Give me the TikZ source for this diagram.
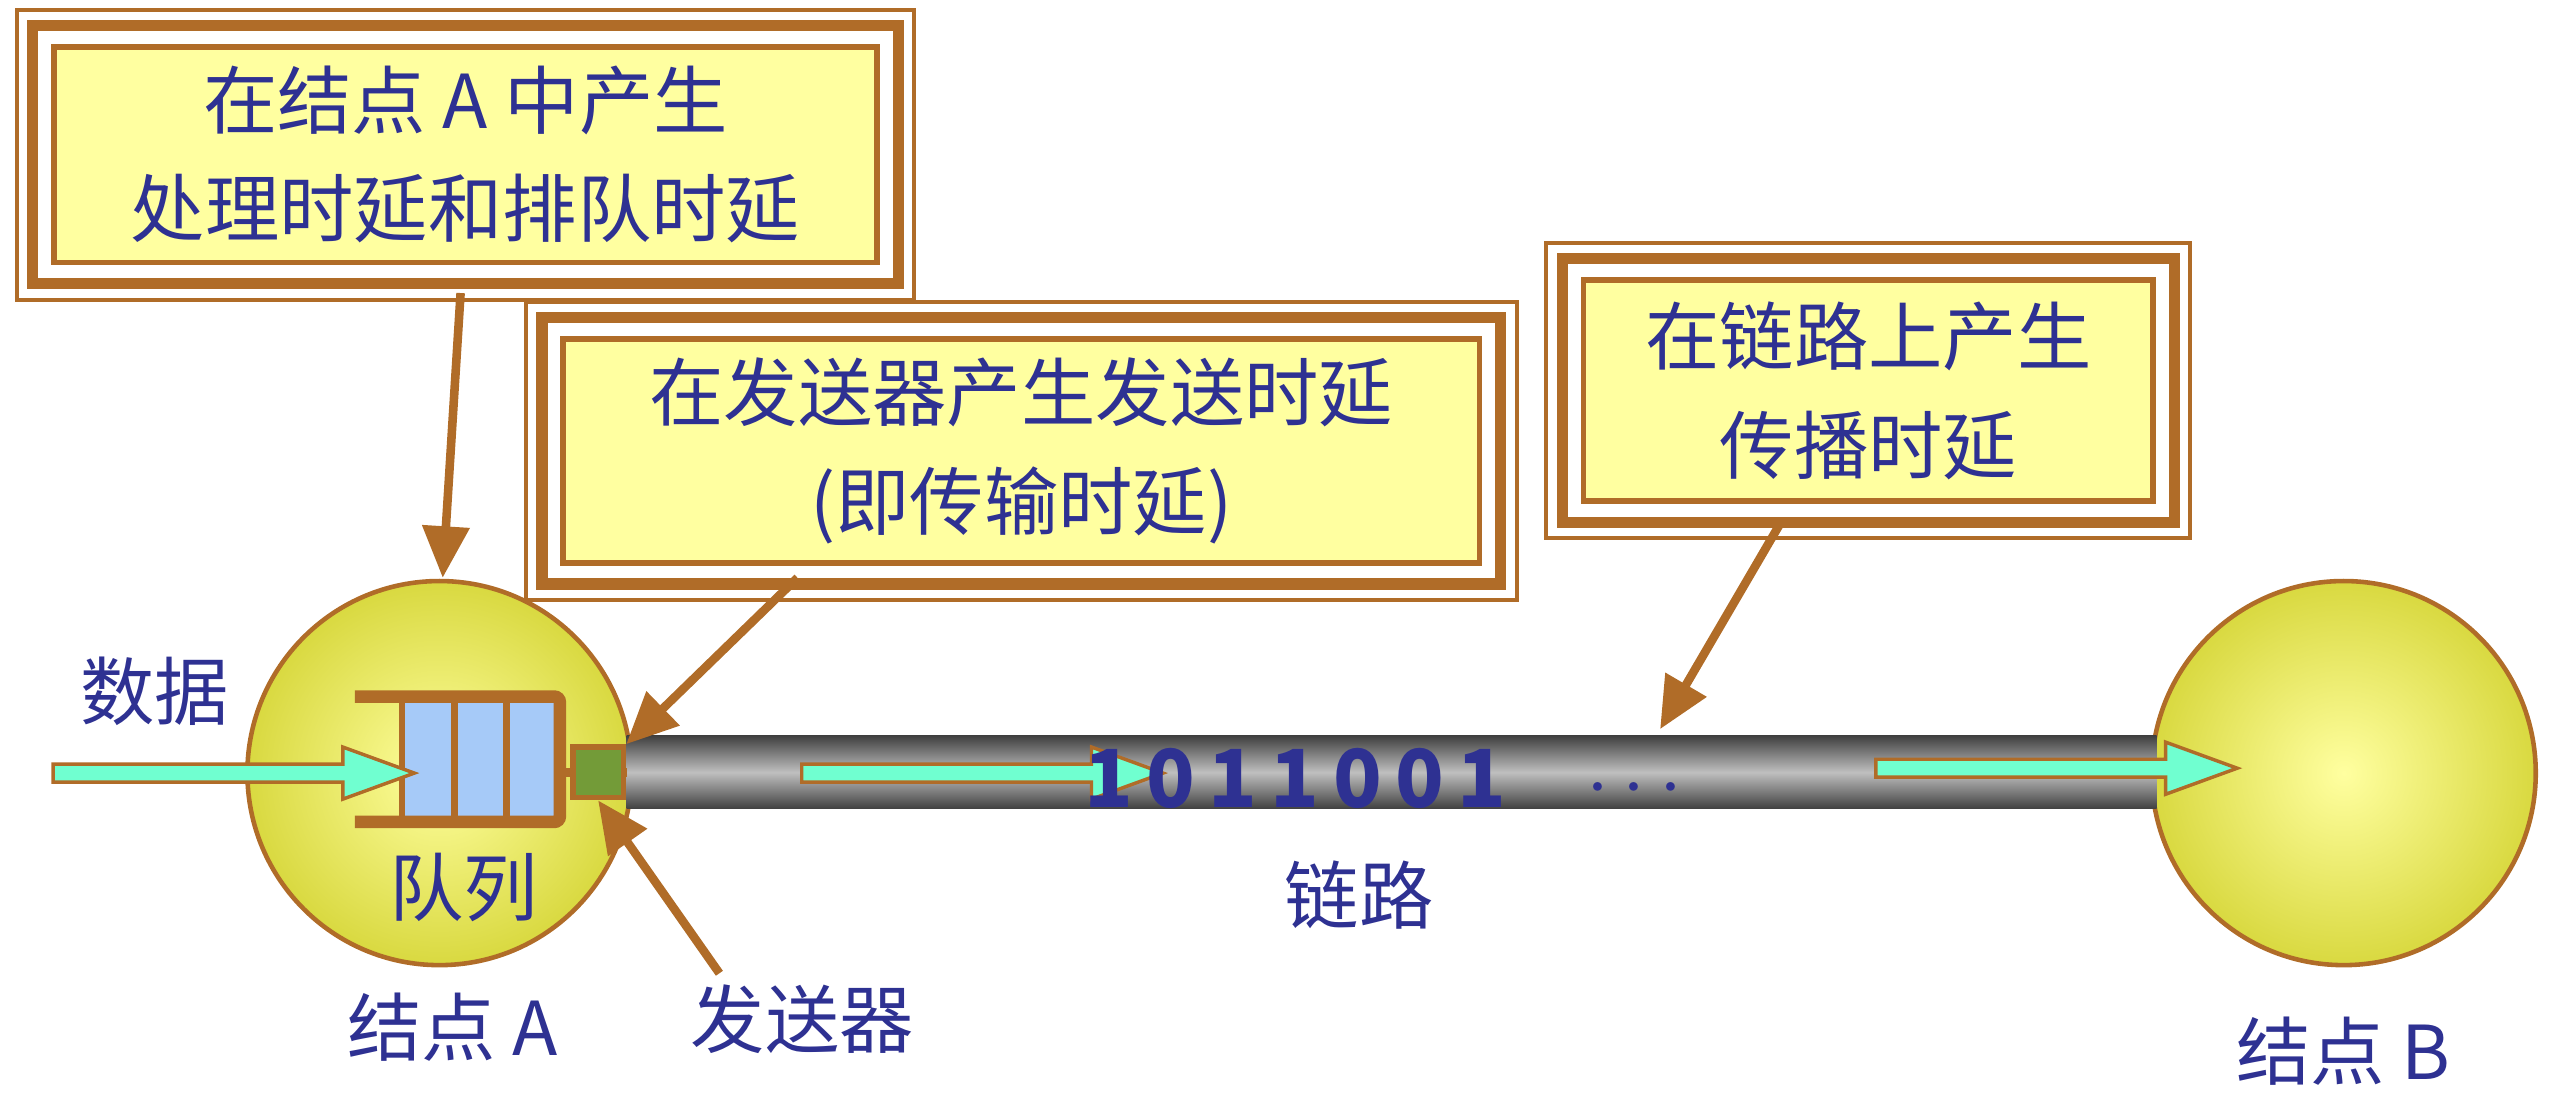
\documentclass[tikz,border=0pt]{standalone}
\usepackage{fontspec}
\setmainfont{Noto Sans CJK SC}
\usetikzlibrary{shapes.arrows,arrows.meta,positioning}
\definecolor{brn}{HTML}{B06C28}
\definecolor{pale}{HTML}{FFFFA0}
\definecolor{ink}{HTML}{2E3192}
\definecolor{aqua}{HTML}{70FFD0}
\definecolor{qblue}{HTML}{A6CAF8}
\definecolor{sgreen}{HTML}{739B38}
\tikzset{
  note/.style={fill=pale,draw=brn,line width=1pt,text=ink,align=center,font=\fontsize{13}{19}\selectfont},
  lbl/.style={text=ink,font=\fontsize{13}{16}\selectfont},
  ptr/.style={draw=brn,line width=1.5pt,-{Triangle[length=9pt,width=8pt]}},
  flow/.style={single arrow,draw=brn,fill=aqua,line width=.6pt,minimum width=.32cm,single arrow head extend=.02cm,inner sep=0pt,single arrow tip angle=40},
  station/.style={circle,draw=brn,line width=.8pt,minimum size=2.36cm,inner color=pale,outer color=yellow!50!olive!60!white}
}
% extra frame around a note
\newcommand{\noteframe}[1]{%
  \draw[brn,line width=2pt] ([shift={(-3.2pt,-3.2pt)}]#1.south west) rectangle ([shift={(3.2pt,3.2pt)}]#1.north east);
  \draw[brn,line width=.7pt] ([shift={(-6pt,-6pt)}]#1.south west) rectangle ([shift={(6pt,6pt)}]#1.north east);}
\begin{document}
\begin{tikzpicture}
\useasboundingbox (0,0) rectangle (15.68,6.81);

% nodes A and B
\node[station] (na) at (2.70,2.06) {};
\node[station] (nb) at (14.40,2.06) {};

% link
\shade[top color=black!75,bottom color=black!75,middle color=black!25] (3.85,1.84) rectangle (13.25,2.29);
\node[coordinate] (lk) at (10.20,2.33) {};

% queue
\fill[qblue] (2.47,1.76) rectangle (3.42,2.53);
\draw[brn,line width=1.2pt] (2.47,1.76) -- (2.47,2.53) (2.79,1.76) -- (2.79,2.53) (3.11,1.76) -- (3.11,2.53);
\draw[brn,line width=2.2pt,rounded corners=1pt] (2.18,2.53) -| (3.44,1.76) -- (2.18,1.76);
\node[fill=sgreen,draw=brn,line width=1pt,minimum size=.31cm,inner sep=0pt] (snd) at (3.675,2.065) {};
\draw[brn,line width=1.5pt] (3.44,2.065) -- (snd.west) (snd.east) -- (3.85,2.065);

% data flow
\node[flow,minimum height=2.22cm] (f1) at (1.36,2.06) {};
\node[flow,minimum height=2.22cm] (f2) at (5.96,2.06) {};
\node[flow,minimum height=2.22cm] (f3) at (12.56,2.09) {};
\node[text=ink,font=\bfseries\fontsize{14}{16}\selectfont] (bits) at (8.5,2.03) {1\,0\,1\,1\,0\,0\,1\quad$\cdots$};

% notes
\node[note,minimum width=5.06cm,minimum height=1.32cm] (t1) at (2.86,5.86) {在结点 A 中产生\\处理时延和排队时延};
\node[note,minimum width=5.63cm,minimum height=1.33cm] (t2) at (6.275,4.04) {在发送器产生发送时延\\(即传输时延)};
\node[note,minimum width=3.50cm,minimum height=1.36cm] (t3) at (11.48,4.41) {在链路上产生\\传播时延};
\noteframe{t1}
\noteframe{t2}
\noteframe{t3}

% labels
\node[lbl] (ldata) at (0.95,2.56) {数据};
\node[lbl] (lq) at (2.85,1.36) {队列};
\node[lbl] (la) at (2.78,0.50) {结点 A};
\node[lbl] (ls) at (4.93,0.55) {发送器};
\node[lbl] (ll) at (8.35,1.31) {链路};
\node[lbl] (lb) at (14.40,0.35) {结点 B};
\coordinate (lstop) at (4.42,0.83);

% pointers
\draw[ptr] (t1.south) ++(-0.03,-0.17) -- (2.72,3.26);
\draw[ptr] (4.90,3.26) -- (snd.north east);
\draw[ptr] (10.93,3.58) -- (lk);
\draw[ptr] (lstop) -- (snd.south);
\end{tikzpicture}
\end{document}
